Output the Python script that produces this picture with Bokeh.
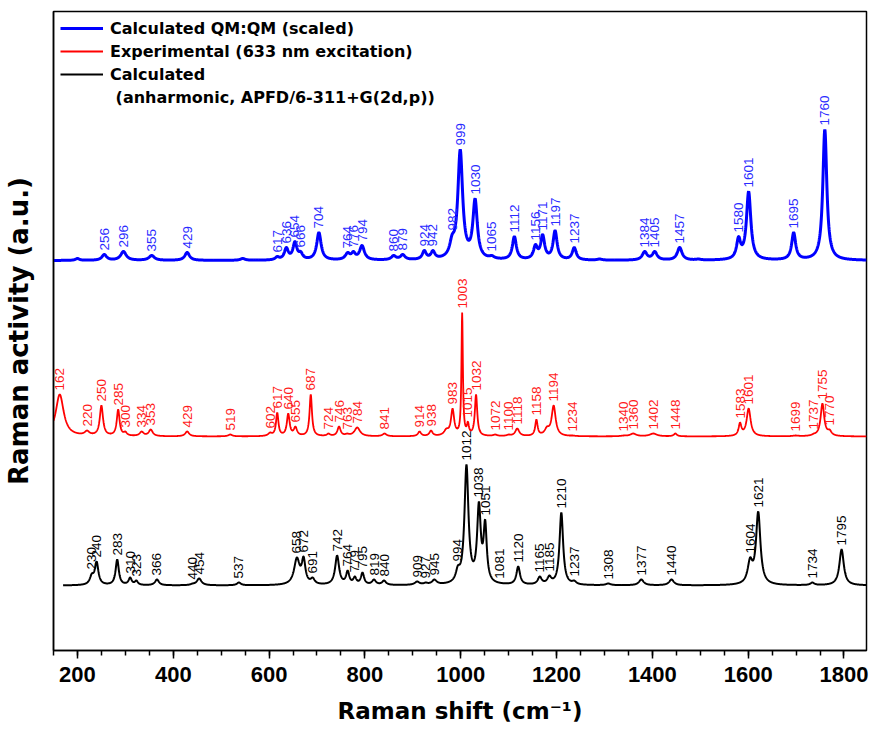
import numpy as np
from bokeh.plotting import figure
from bokeh.models import ColumnDataSource, Legend, LegendItem, FixedTicker, Range1d
from bokeh.core.properties import value
from bokeh.embed import file_html
from bokeh.resources import INLINE

# ---------------- data ----------------
x_start, x_end = 150, 1847
y_start, y_end = 0, 639

# vertical offsets of the three stacked spectra (a.u.)
qm_base = 390
exp_base = 214
calc_base = 65

# Calculated QM:QM (scaled) - blue
qm_pos    = [200, 256, 296, 355, 429, 545, 617, 636, 654, 666, 704, 764, 776, 794, 860, 879, 924, 942, 982, 999, 1030, 1065, 1112, 1156, 1171, 1197, 1237, 1290, 1384, 1405, 1457, 1496, 1580, 1601, 1695, 1760]
qm_height = [2, 6, 9, 5, 8, 2, 4, 13, 19, 9, 28, 8, 9, 15, 5, 6, 10, 10, 26, 111, 62, 5, 24, 16, 26, 30, 13, 1.5, 9, 9, 13, 1.5, 24, 69, 28, 131]
qm_fwhm   = [10, 12, 14, 14, 12, 12, 10, 10, 10, 10, 11, 12, 10, 12, 12, 12, 10, 10, 12, 12, 11, 12, 10, 10, 10, 10, 10, 12, 12, 12, 12, 12, 10, 11, 10, 10]
qm_label  = ["", "256", "296", "355", "429", "", "617", "636", "654", "666", "704", "764", "776", "794", "860", "879", "924", "942", "982", "999", "1030", "1065", "1112", "1156", "1171", "1197", "1237", "", "1384", "1405", "1457", "", "1580", "1601", "1695", "1760"]

# Experimental (633 nm excitation) - red
exp_pos    = [163, 220, 250, 285, 300, 334, 353, 429, 519, 602, 617, 640, 655, 687, 724, 746, 763, 784, 841, 914, 938, 970, 983, 1003, 1015, 1032, 1072, 1100, 1118, 1158, 1180, 1194, 1234, 1340, 1360, 1402, 1448, 1583, 1601, 1699, 1737, 1755, 1770]
exp_height = [42, 6, 31, 27, 5, 5, 7, 5, 2, 4, 24, 23, 10, 42, 3, 10, 3, 9, 3, 5, 6, 8, 28, 124, 15, 42, 2, 2, 8, 17, 10, 31, 1, 1, 3, 3, 3, 14, 28, 1, 3, 33, 7]
exp_fwhm   = [20, 12, 8, 7, 8, 10, 10, 10, 10, 10, 6, 7, 8, 6, 8, 8, 10, 14, 10, 8, 8, 12, 8, 3.5, 5, 6, 10, 10, 10, 6, 12, 10, 10, 15, 15, 18, 8, 7, 10, 15, 10, 9, 10]
exp_label  = ["162", "220", "250", "285", "300", "334", "353", "429", "519", "602", "617", "640", "655", "687", "724", "746", "763", "784", "841", "914", "938", "", "983", "1003", "1015", "1032", "1072", "1100", "1118", "1158", "", "1194", "1234", "1340", "1360", "1402", "1448", "1583", "1601", "1699", "1737", "1755", "1770"]

# Calculated (anharmonic, APFD/6-311+G(2d,p)) - black
calc_pos    = [230, 240, 283, 310, 323, 366, 440, 454, 537, 658, 672, 691, 742, 764, 779, 795, 819, 840, 909, 927, 945, 994, 1012, 1038, 1051, 1081, 1120, 1165, 1185, 1210, 1237, 1308, 1377, 1440, 1604, 1621, 1734, 1795]
calc_height = [12, 24, 26, 8, 5, 6, 2, 7, 3, 28, 29, 8, 30, 15, 9, 13, 6, 5, 4, 3, 6, 20, 121, 84, 66, 2, 19, 9, 10, 73, 5, 2, 6, 6, 28, 74, 3, 36]
calc_fwhm   = [10, 9, 8, 8, 8, 10, 10, 12, 10, 14, 9, 10, 10, 8, 8, 8, 10, 10, 12, 10, 12, 10, 10, 9, 8, 10, 9, 10, 10, 9, 10, 12, 12, 12, 12, 11, 10, 11]
calc_label  = ["230", "240", "283", "310", "323", "366", "440", "454", "537", "658", "672", "691", "742", "764", "779", "795", "819", "840", "909", "927", "945", "994", "1012", "1038", "1051", "1081", "1120", "1165", "1185", "1210", "1237", "1308", "1377", "1440", "1604", "1621", "1734", "1795"]

x_ticks = [200, 400, 600, 800, 1000, 1200, 1400, 1600, 1800]
x_minor = list(range(150, 1851, 50))

legend_labels = ["Calculated QM:QM (scaled)", "Experimental (633 nm excitation)",
                 "Calculated", " (anharmonic, APFD/6-311+G(2d,p))"]


# ---------------- line shapes ----------------
def lorentz(d, w):
    hw = w / 2.0
    return hw * hw / (d * d + hw * hw)


def amplitudes(pos, h, w):
    pos = np.asarray(pos, float); h = np.asarray(h, float); w = np.asarray(w, float)
    L = lorentz(pos[:, None] - pos[None, :], w[None, :])
    a = h.copy()
    for _ in range(400):
        a = np.clip(a + 0.6 * (h - L @ a), 0, None)
    return a


def spectrum(xg, pos, h, w):
    a = amplitudes(pos, h, w)
    pos = np.asarray(pos, float); w = np.asarray(w, float)
    return (a[None, :] * lorentz(xg[:, None] - pos[None, :], w[None, :])).sum(axis=1)


def build(x0, pos, h, w, labels, base):
    xg = np.arange(x0, x_end + 0.25, 0.5)
    yg = spectrum(xg, pos, h, w) + base
    ypk = spectrum(np.asarray(pos, float), pos, h, w) + base
    lx = [p for p, t in zip(pos, labels) if t]
    ly = [yy + 4 for yy, t in zip(ypk, labels) if t]
    lt = [t for t in labels if t]
    return (ColumnDataSource(dict(x=xg, y=yg)),
            ColumnDataSource(dict(x=lx, y=ly, t=lt)))


qm_line, qm_txt = build(x_start, qm_pos, qm_height, qm_fwhm, qm_label, qm_base)
exp_line, exp_txt = build(x_start, exp_pos, exp_height, exp_fwhm, exp_label, exp_base)
calc_line, calc_txt = build(170, calc_pos, calc_height, calc_fwhm, calc_label, calc_base)

# ---------------- figure ----------------
p = figure(width=870, height=735, output_backend="svg", toolbar_location=None,
           x_range=Range1d(x_start, x_end), y_range=Range1d(y_start, y_end),
           min_border_left=53, min_border_right=4, min_border_top=11, min_border_bottom=85)
p.background_fill_color = "white"
p.border_fill_color = "white"
p.grid.visible = False
p.outline_line_color = "black"
p.outline_line_width = 1.5

r_qm = p.line("x", "y", source=qm_line, line_color="#0000ff", line_width=3)
r_exp = p.line("x", "y", source=exp_line, line_color="#ff0000", line_width=1.8)
r_calc = p.line("x", "y", source=calc_line, line_color="black", line_width=2)
r_dummy = p.line(x=[np.nan], y=[np.nan], line_color=None)

lab_font = value("Liberation Sans")
for src, col in [(qm_txt, "#2a2aff"), (exp_txt, "#ff1a1a"), (calc_txt, "black")]:
    p.text("x", "y", text="t", source=src, angle=np.pi / 2, text_align="left",
           text_baseline="middle", text_font=lab_font, text_font_size="13.5px",
           text_color=col)

# x axis
xa = p.xaxis[0]
xa.ticker = FixedTicker(ticks=x_ticks, minor_ticks=x_minor)
xa.axis_label = "Raman shift (cm\u207b\u00b9)"
xa.axis_label_text_font = "DejaVu Sans"
xa.axis_label_text_font_style = "bold"
xa.axis_label_text_font_size = "23px"
xa.axis_label_text_color = "black"
xa.axis_label_standoff = 13
xa.major_label_text_font = "Liberation Sans"
xa.major_label_text_font_style = "bold"
xa.major_label_text_font_size = "22px"
xa.major_label_text_color = "black"
xa.major_label_standoff = 8
xa.major_tick_out = 8
xa.major_tick_in = 0
xa.minor_tick_out = 5
xa.minor_tick_in = 0
xa.major_tick_line_width = 1.5
xa.minor_tick_line_width = 1.5
xa.axis_line_width = 1.5

# y axis (no ticks, no tick labels)
ya = p.yaxis[0]
ya.ticker = FixedTicker(ticks=[], minor_ticks=[])
ya.axis_label = "Raman activity (a.u.)"
ya.axis_label_text_font = "DejaVu Sans"
ya.axis_label_text_font_style = "bold"
ya.axis_label_text_font_size = "26px"
ya.axis_label_text_color = "black"
ya.axis_label_standoff = 20
ya.major_tick_line_color = None
ya.minor_tick_line_color = None
ya.axis_line_width = 1.5

legend = Legend(items=[LegendItem(label=legend_labels[0], renderers=[r_qm]),
                       LegendItem(label=legend_labels[1], renderers=[r_exp]),
                       LegendItem(label=legend_labels[2], renderers=[r_calc]),
                       LegendItem(label=legend_labels[3], renderers=[r_dummy])],
                location="top_left", margin=7, padding=0, spacing=3,
                glyph_width=43, glyph_height=20, label_height=20, label_standoff=7,
                border_line_color=None, background_fill_alpha=0,
                label_text_font="DejaVu Sans", label_text_font_style="bold",
                label_text_font_size="16px", label_text_color="black")
p.add_layout(legend)

open("out.html", "w").write(file_html(p, INLINE))
